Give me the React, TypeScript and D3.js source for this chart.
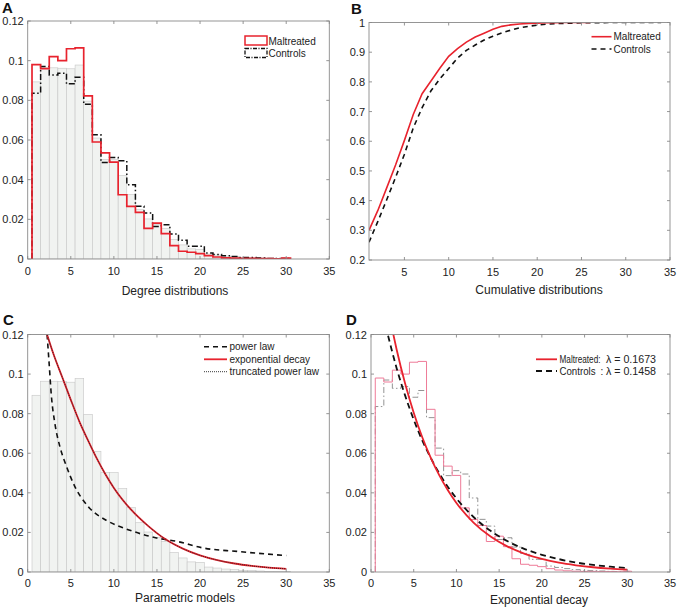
import React from "react";
import * as d3 from "d3";

// ---------- DATA ----------
const degreeBins = [1, 2, 3, 4, 5, 6, 7, 8, 9, 10, 11, 12, 13, 14, 15, 16, 17, 18, 19, 20, 21, 22, 23, 24, 25, 26, 27, 28, 29, 30];
const maltreatedPMF = [0.098, 0.096, 0.102, 0.1, 0.106, 0.1064, 0.0822, 0.059, 0.0535, 0.0488, 0.0324, 0.0265, 0.0235, 0.0154, 0.0181, 0.0128, 0.0067, 0.0039, 0.0034, 0.0027, 0.0017, 0.001, 0.0006, 0.0004, 0.0003, 0.0003, 0.0002, 0.0002, 0.0001, 0.0004];
const controlsPMF = [0.0836, 0.097, 0.0928, 0.0937, 0.0883, 0.0917, 0.078, 0.0626, 0.0487, 0.0512, 0.0495, 0.0374, 0.0266, 0.0232, 0.0164, 0.0173, 0.0126, 0.0094, 0.0064, 0.0064, 0.003, 0.0023, 0.0017, 0.0012, 0.0008, 0.0007, 0.0005, 0.0003, 0.0002, 0.0003];
const pooledPMF = [0.0893, 0.0964, 0.0964, 0.0962, 0.0959, 0.0978, 0.0796, 0.061, 0.0502, 0.0502, 0.0421, 0.0325, 0.0249, 0.0202, 0.0174, 0.0155, 0.0098, 0.0071, 0.0051, 0.0049, 0.0025, 0.002, 0.0015, 0.0012, 0.0008, 0.0007, 0.0005, 0.0003, 0.0003, 0.0003];

// Panel B: cumulative distributions
const cdfMaltreatedX = [1, 2, 3, 4, 5, 6, 7, 8, 9, 10, 11, 12, 13, 14, 15, 16, 17, 18, 19, 20, 21, 22, 23, 24, 25, 26];
const cdfMaltreatedY = [0.3, 0.367, 0.443, 0.52, 0.603, 0.69, 0.76, 0.803, 0.846, 0.886, 0.912, 0.934, 0.951, 0.964, 0.977, 0.987, 0.992, 0.995, 0.997, 0.998, 0.999, 0.9995, 0.9998, 0.9999, 1.0, 1.0];
const cdfControlsX = [1, 2, 3, 4, 5, 6, 7, 8, 9, 10, 11, 12, 13, 14, 15, 16, 17, 18, 19, 20, 21, 22, 23, 24, 25, 26, 28, 30, 32, 34];
const cdfControlsY = [0.26, 0.33, 0.403, 0.478, 0.556, 0.645, 0.713, 0.77, 0.81, 0.845, 0.88, 0.906, 0.924, 0.941, 0.954, 0.965, 0.974, 0.982, 0.987, 0.991, 0.994, 0.996, 0.997, 0.998, 0.999, 0.9995, 0.9998, 1.0, 1.0, 1.0];

// Panel C: parametric models
const powerLawX = [2.25, 2.48, 2.75, 3.14, 3.72, 4.49, 5.46, 7.0, 9.34, 11.66, 14.96, 17.28, 20.4, 24.3, 30];
const powerLawY = [0.12, 0.1058, 0.0889, 0.0754, 0.0636, 0.0535, 0.0433, 0.0332, 0.0256, 0.0214, 0.0172, 0.0155, 0.0121, 0.0104, 0.0083];
const expDecayX = [2.05, 3, 4, 5, 6, 7, 8, 9, 10, 12, 14, 16, 18, 20, 22, 24, 26, 28, 30];
const expDecayY = [0.1227, 0.11, 0.0985, 0.087, 0.076, 0.0665, 0.0575, 0.0495, 0.0425, 0.0315, 0.0232, 0.0165, 0.0118, 0.0084, 0.006, 0.0043, 0.0031, 0.0022, 0.0016];
const truncPowerX = [2.05, 3, 4, 5, 6, 7, 8, 9, 10, 12, 14, 16, 18, 20, 22, 24, 26, 28, 30];
const truncPowerY = [0.1227, 0.11, 0.0985, 0.087, 0.076, 0.0665, 0.0575, 0.0495, 0.0425, 0.0315, 0.0232, 0.0165, 0.0118, 0.0084, 0.006, 0.0043, 0.0031, 0.0022, 0.0016];

// Panel D: exponential fits
const fitMaltreatedX = [2.5, 3, 4, 5, 6, 7, 8, 9, 10, 12, 14, 16, 18, 20, 22, 24, 26, 28, 30];
const fitMaltreatedY = [0.1223, 0.1124, 0.0951, 0.0805, 0.0681, 0.0577, 0.0488, 0.0413, 0.0349, 0.025, 0.0179, 0.0128, 0.0092, 0.0066, 0.0047, 0.0034, 0.0024, 0.0017, 0.0012];
const fitControlsX = [2, 3, 4, 5, 6, 7, 8, 9, 10, 12, 14, 16, 18, 20, 22, 24, 26, 28, 30];
const fitControlsY = [0.1194, 0.103, 0.0891, 0.077, 0.0665, 0.0576, 0.0498, 0.043, 0.0372, 0.0278, 0.0208, 0.0155, 0.0116, 0.0087, 0.0065, 0.0048, 0.0036, 0.0027, 0.002];

const pmfTicksX = [0, 5, 10, 15, 20, 25, 30, 35];
const pmfTicksY = [0, 0.02, 0.04, 0.06, 0.08, 0.1, 0.12];
const cdfTicksX = [5, 10, 15, 20, 25, 30, 35];
const cdfTicksY = [0.2, 0.3, 0.4, 0.5, 0.6, 0.7, 0.8, 0.9, 1];

// ---------- STYLE ----------
const FONT = "'Liberation Sans', Arial, Helvetica, sans-serif";
const AXIS = "#8a8a8a";
const TXT = "#222";
const RED = "#e8232e";
const PINK = "#ee7b98";
const DASHDOT = "6,2.5,1.5,2.5";

type Geo = { l: number; r: number; t: number; b: number };

function Frame({ geo, x, y, xt, yt, xlabel, xlabelX, xlabelY, letter, letterX, letterY, tickGap = 16 }: any) {
  const fmt = (v: number) => String(+v.toFixed(2));
  const tl = 3;
  return (
    <g fontFamily={FONT}>
      <rect x={geo.l} y={geo.t} width={geo.r - geo.l} height={geo.b - geo.t} fill="none" stroke={AXIS} strokeWidth={0.9} />
      {xt.map((v: number) => (
        <g key={"x" + v}>
          <line x1={x(v)} x2={x(v)} y1={geo.b} y2={geo.b - tl} stroke={AXIS} strokeWidth={0.9} />
          <line x1={x(v)} x2={x(v)} y1={geo.t} y2={geo.t + tl} stroke={AXIS} strokeWidth={0.9} />
          <text x={x(v)} y={geo.b + tickGap} textAnchor="middle" fontSize={11} fill={TXT}>{fmt(v)}</text>
        </g>
      ))}
      {yt.map((v: number) => (
        <g key={"y" + v}>
          <line x1={geo.l} x2={geo.l + tl} y1={y(v)} y2={y(v)} stroke={AXIS} strokeWidth={0.9} />
          <line x1={geo.r} x2={geo.r - tl} y1={y(v)} y2={y(v)} stroke={AXIS} strokeWidth={0.9} />
          <text x={geo.l - 4} y={y(v) + 4} textAnchor="end" fontSize={11} fill={TXT}>{fmt(v)}</text>
        </g>
      ))}
      <text x={xlabelX} y={xlabelY} textAnchor="middle" fontSize={12} fill={TXT}>{xlabel}</text>
      <text x={letterX} y={letterY} fontSize={15} fontWeight="bold" fill="#111">{letter}</text>
    </g>
  );
}

function stepPath(x: any, y: any, vals: number[]) {
  const pts: [number, number][] = [[degreeBins[0] - 0.5, 0]];
  degreeBins.forEach((b, i) => pts.push([b - 0.5, vals[i]]));
  pts.push([degreeBins[degreeBins.length - 1] + 0.5, 0]);
  return d3.line<[number, number]>().x((d) => x(d[0])).y((d) => y(d[1])).curve(d3.curveStepAfter)(pts) || "";
}

function curvePath(x: any, y: any, xs: number[], ys: number[], linear = false) {
  const pts = xs.map((v, i) => [v, ys[i]] as [number, number]);
  return d3.line<[number, number]>().x((d) => x(d[0])).y((d) => y(d[1])).curve(linear ? d3.curveLinear : d3.curveMonotoneX)(pts) || "";
}

function Bars({ x, y, vals }: any) {
  return (
    <g>
      {degreeBins.map((b, i) => (
        <rect key={b} x={x(b - 0.5)} y={y(vals[i])} width={x(b + 0.5) - x(b - 0.5)} height={y(0) - y(vals[i])} fill="#f1f3f1" stroke="#c6c6c6" strokeWidth={0.6} />
      ))}
    </g>
  );
}

export default function App() {
  const gA: Geo = { l: 27.7, r: 329.3, t: 21, b: 259 };
  const gB: Geo = { l: 369, r: 670, t: 22.5, b: 260 };
  const gC: Geo = { l: 27.7, r: 329.3, t: 334.5, b: 572 };
  const gD: Geo = { l: 371, r: 670, t: 334.5, b: 572 };

  const xA = d3.scaleLinear().domain([0, 35]).range([gA.l, gA.r]);
  const yA = d3.scaleLinear().domain([0, 0.12]).range([gA.b, gA.t]);
  const xB = d3.scaleLinear().domain([1, 35]).range([gB.l, gB.r]);
  const yB = d3.scaleLinear().domain([0.2, 1]).range([gB.b, gB.t]);
  const xC = d3.scaleLinear().domain([0, 35]).range([gC.l, gC.r]);
  const yC = d3.scaleLinear().domain([0, 0.12]).range([gC.b, gC.t]);
  const xD = d3.scaleLinear().domain([0, 35]).range([gD.l, gD.r]);
  const yD = d3.scaleLinear().domain([0, 0.12]).range([gD.b, gD.t]);

  const clip = (id: string, g: Geo) => (
    <clipPath id={id}><rect x={g.l} y={g.t} width={g.r - g.l} height={g.b - g.t} /></clipPath>
  );

  return (
    <svg width={680} height={612} style={{ position: "absolute", left: 0, top: 0, background: "#fff" }}>
      <defs>
        {clip("cA", gA)}
        {clip("cB", gB)}
        {clip("cC", gC)}
        {clip("cD", gD)}
      </defs>
      <rect x={0} y={0} width={680} height={612} fill="#fff" />

      {/* Panel A */}
      <g clipPath="url(#cA)">
        <Bars x={xA} y={yA} vals={pooledPMF} />
        <path d={stepPath(xA, yA, controlsPMF)} fill="none" stroke="#111" strokeWidth={1.5} strokeDasharray={DASHDOT} />
        <path d={stepPath(xA, yA, maltreatedPMF)} fill="none" stroke={RED} strokeWidth={1.7} />
      </g>
      <Frame geo={gA} x={xA} y={yA} xt={pmfTicksX} yt={pmfTicksY} xlabel="Degree distributions" xlabelX={175} xlabelY={295} letter="A" letterX={2} letterY={13} />
      <g fontFamily={FONT} fontSize={10} fill={TXT}>
        <rect x={245} y={36} width={22} height={9} fill="#fff" stroke={RED} strokeWidth={1.5} />
        <text x={268.5} y={44.5}>Maltreated</text>
        <rect x={245} y={48.5} width={22} height={9} fill="#fff" stroke="#111" strokeWidth={1.3} strokeDasharray="4,1.5,1,1.5" />
        <text x={268.5} y={57}>Controls</text>
      </g>

      {/* Panel B */}
      <g clipPath="url(#cB)">
        <path d={curvePath(xB, yB, cdfControlsX, cdfControlsY, true)} fill="none" stroke="#111" strokeWidth={1.6} strokeDasharray="5,4" />
        <path d={curvePath(xB, yB, cdfMaltreatedX, cdfMaltreatedY, true)} fill="none" stroke={RED} strokeWidth={1.6} />
      </g>
      <Frame geo={gB} x={xB} y={yB} xt={cdfTicksX} yt={cdfTicksY} xlabel="Cumulative distributions" xlabelX={539} xlabelY={294} letter="B" letterX={351} letterY={14} />
      <g fontFamily={FONT} fontSize={10} fill={TXT}>
        <line x1={591.5} x2={611.5} y1={36.7} y2={36.7} stroke={RED} strokeWidth={1.6} />
        <text x={613.5} y={40.3}>Maltreated</text>
        <line x1={591.5} x2={611.5} y1={49} y2={49} stroke="#111" strokeWidth={1.6} strokeDasharray="5,4" />
        <text x={613.5} y={52.6}>Controls</text>
      </g>

      {/* Panel C */}
      <g clipPath="url(#cC)">
        <Bars x={xC} y={yC} vals={pooledPMF} />
        <path d={curvePath(xC, yC, powerLawX, powerLawY)} fill="none" stroke="#111" strokeWidth={1.6} strokeDasharray="5,4" />
        <path d={curvePath(xC, yC, expDecayX, expDecayY)} fill="none" stroke={RED} strokeWidth={1.8} />
        <path d={curvePath(xC, yC, truncPowerX, truncPowerY)} fill="none" stroke="#222" strokeWidth={0.9} strokeDasharray="1,1" />
      </g>
      <Frame geo={gC} x={xC} y={yC} xt={pmfTicksX} yt={pmfTicksY} tickGap={15} xlabel="Parametric models" xlabelX={185} xlabelY={602} letter="C" letterX={3} letterY={325} />
      <g fontFamily={FONT} fontSize={10} fill={TXT}>
        <line x1={204} x2={227} y1={346.7} y2={346.7} stroke="#111" strokeWidth={1.6} strokeDasharray="5,4" />
        <text x={229.5} y={350.3}>power law</text>
        <line x1={204} x2={227} y1={359.3} y2={359.3} stroke={RED} strokeWidth={1.8} />
        <text x={229.5} y={362.9}>exponential decay</text>
        <line x1={204} x2={227} y1={371.7} y2={371.7} stroke="#222" strokeWidth={0.9} strokeDasharray="1,1" />
        <text x={229.5} y={375.3}>truncated power law</text>
      </g>

      {/* Panel D */}
      <g clipPath="url(#cD)">
        <path d={stepPath(xD, yD, controlsPMF)} fill="none" stroke="#777" strokeWidth={0.8} strokeDasharray={DASHDOT} />
        <path d={stepPath(xD, yD, maltreatedPMF)} fill="none" stroke={PINK} strokeWidth={1} />
        <path d={curvePath(xD, yD, fitControlsX, fitControlsY)} fill="none" stroke="#111" strokeWidth={1.8} strokeDasharray="6,4" />
        <path d={curvePath(xD, yD, fitMaltreatedX, fitMaltreatedY)} fill="none" stroke={RED} strokeWidth={1.8} />
      </g>
      <Frame geo={gD} x={xD} y={yD} xt={pmfTicksX} yt={pmfTicksY} tickGap={15} xlabel="Exponential decay" xlabelX={539} xlabelY={604} letter="D" letterX={346} letterY={325} />
      <g fontFamily={FONT} fontSize={10} fill={TXT}>
        <line x1={536} x2={557} y1={359.3} y2={359.3} stroke={RED} strokeWidth={1.8} />
        <text x={559.5} y={362.9} textLength={41} lengthAdjust="spacingAndGlyphs">Maltreated:</text>
        <text x={606} y={362.9} textLength={50} lengthAdjust="spacingAndGlyphs">λ = 0.1673</text>
        <line x1={536} x2={557} y1={371} y2={371} stroke="#111" strokeWidth={1.8} strokeDasharray="6,4" />
        <text x={559.5} y={374.6} textLength={36} lengthAdjust="spacingAndGlyphs">Controls</text>
        <text x={600.5} y={374.6}>:</text>
        <text x={606} y={374.6} textLength={50} lengthAdjust="spacingAndGlyphs">λ = 0.1458</text>
      </g>
    </svg>
  );
}
